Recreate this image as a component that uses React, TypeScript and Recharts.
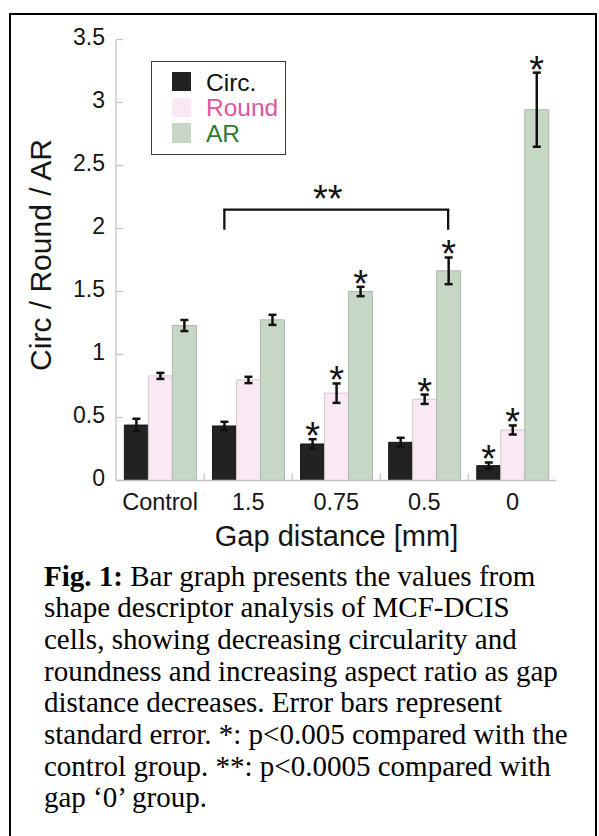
import React from 'react';
import {
  BarChart,
  Bar,
  XAxis,
  YAxis,
  ErrorBar,
  LabelList,
  Legend,
  ReferenceLine,
  Label,
} from 'recharts';

// ---- data -------------------------------------------------------------
const categories = ['Control', '1.5', '0.75', '0.5', '0'];

const circValues = [0.44, 0.433, 0.29, 0.303, 0.118];
const circErrors = [0.05, 0.033, 0.038, 0.036, 0.025];
const circSignificant = [false, false, true, false, true];

const roundValues = [0.83, 0.798, 0.693, 0.645, 0.401];
const roundErrors = [0.024, 0.025, 0.077, 0.037, 0.036];
const roundSignificant = [false, false, true, true, true];

const arValues = [1.23, 1.275, 1.5, 1.664, 2.943];
const arErrors = [0.044, 0.04, 0.037, 0.106, 0.294];
const arSignificant = [false, false, true, true, true];

const yTicks = [0, 0.5, 1, 1.5, 2, 2.5, 3, 3.5];

const seriesNames = ['Circ.', 'Round', 'AR'];
const seriesFill = ['#222222', '#fae9f4', '#c6d7c6'];
const seriesStroke = ['#161616', '#d8c3d0', '#a9baa9'];
const legendTextColors = ['#111111', '#e0559b', '#2f7a2f'];

// "**" bracket: from the Circ. bar of gap 1.5 to the AR bar of gap 0.5
const bracketFrom = { group: '1.5', bar: 0 };
const bracketTo = { group: '0.5', bar: 2 };
const bracketTop = 2.15;
const bracketFoot = 1.99;

const captionLines = [
  'Bar graph presents the values from',
  'shape descriptor analysis of MCF-DCIS',
  'cells, showing decreasing circularity and',
  'roundness and increasing aspect ratio as gap',
  'distance decreases. Error bars represent',
  'standard error. *: p<0.005 compared with the',
  'control group. **: p<0.0005 compared with',
  'gap \u20180\u2019 group.',
];

const data = categories.map((gap, i) => ({
  gap,
  circ: circValues[i],
  circErr: circErrors[i],
  round: roundValues[i],
  roundErr: roundErrors[i],
  ar: arValues[i],
  arErr: arErrors[i],
}));

// ---- layout -----------------------------------------------------------
const W = 599;
const H = 560;
const PLOT_LEFT = 116;
const PLOT_RIGHT = 556.5;
const PLOT_TOP = 39.5;
const PLOT_BOTTOM = 480.5;
const Y_AXIS_W = 80;
const X_AXIS_H = 70;
const PLOT_W = PLOT_RIGHT - PLOT_LEFT;
const BAND = PLOT_W / categories.length;

const CATEGORY_GAP = 0.095; // fraction of a band left empty on each side
const BAR_FRACTION = (1 - 2 * CATEGORY_GAP) / 3;
// horizontal offset of a bar's centre from its band centre, in band units
const barOffset = (bar: number) => CATEGORY_GAP + (bar + 0.5) * BAR_FRACTION - 0.5;

const SANS = '"Liberation Sans", Arial, Helvetica, sans-serif';
const SERIF = '"Liberation Serif", "Times New Roman", Times, serif';
const AXIS_GRAY = '#c4c4c4';

// ---- custom pieces ----------------------------------------------------
const YTick = (props: any) => {
  const { x, y, payload } = props;
  return (
    <g>
      <line x1={x} x2={x + 7} y1={y} y2={y} stroke={AXIS_GRAY} strokeWidth={1.3} />
      <text x={x - 11} y={y + 5.8} textAnchor="end" fontSize={23} fill="#151515" fontFamily={SANS}>
        {String(payload.value)}
      </text>
    </g>
  );
};

// bottom axis: category label plus an inward tick on each group boundary
const XTick = (props: any) => {
  const { x, y, payload } = props;
  const idx = categories.indexOf(payload.value);
  return (
    <g>
      {idx < categories.length - 1 && (
        <line x1={x + BAND / 2} x2={x + BAND / 2} y1={y} y2={y - 7} stroke={AXIS_GRAY} strokeWidth={1.3} />
      )}
      <text x={x} y={y + 29} textAnchor="middle" fontSize={23.5} fill="#151515" fontFamily={SANS}>
        {payload.value}
      </text>
    </g>
  );
};

// top frame: only inward ticks on the group boundaries
const TopTick = (props: any) => {
  const { x, y, payload } = props;
  const idx = categories.indexOf(payload.value);
  if (idx >= categories.length - 1) return <g />;
  return <line x1={x + BAND / 2} x2={x + BAND / 2} y1={y} y2={y + 7} stroke={AXIS_GRAY} strokeWidth={1.3} />;
};

const starLabel = (flags: boolean[], errs: number[]) => (props: any) => {
  const { x, y, width, height, value, index } = props;
  if (!flags[index] || !value) return null;
  const pxPerUnit = height / value;
  const errTop = y - errs[index] * pxPerUnit;
  return (
    <text
      key={`star-${index}`}
      x={x + width / 2}
      y={errTop + 10}
      textAnchor="middle"
      fontSize={38}
      fill="#111"
      fontFamily={SANS}
    >
      *
    </text>
  );
};

const BracketBar = (props: any) => {
  const { x1, x2, y1 } = props;
  const left = x1 + barOffset(bracketFrom.bar) * BAND;
  const right = x2 + barOffset(bracketTo.bar) * BAND;
  const mid = (left + right) / 2;
  return (
    <g>
      <line x1={left} x2={right} y1={y1} y2={y1} stroke="#111" strokeWidth={2.3} strokeLinecap="square" />
      <text x={mid - 8.5} y={y1 + 2.5} textAnchor="middle" fontSize={38} fill="#111" fontFamily={SANS}>
        **
      </text>
    </g>
  );
};

const legShape = (bar: number) => (props: any) => {
  const { x1, y1, y2 } = props;
  const x = x1 + barOffset(bar) * BAND;
  return <line x1={x} x2={x} y1={y1} y2={y2} stroke="#111" strokeWidth={2.3} />;
};

const LegendBox = (props: any) => {
  const payload = ((props.payload || []) as any[])
    .slice()
    .sort((a, b) => seriesNames.indexOf(a.value) - seriesNames.indexOf(b.value));
  return (
    <div
      style={{
        width: 135,
        height: 94,
        border: '1.5px solid #3a3a3a',
        boxSizing: 'border-box',
        background: '#fff',
        position: 'relative',
        fontFamily: SANS,
      }}
    >
      {payload.map((entry, i) => {
        const k = seriesNames.indexOf(entry.value);
        return (
          <div
            key={entry.value}
            style={{ position: 'absolute', left: 20, top: 9.5 + i * 25.8, height: 20, display: 'flex', alignItems: 'center' }}
          >
            <span style={{ display: 'inline-block', width: 19.5, height: 19.5, background: seriesFill[k] }} />
            <span
              style={{
                marginLeft: 15,
                fontSize: 24.5,
                lineHeight: '20px',
                color: legendTextColors[k],
                position: 'relative',
                top: 1,
              }}
            >
              {entry.value}
            </span>
          </div>
        );
      })}
    </div>
  );
};

export default function App() {
  return (
    <div style={{ position: 'absolute', left: 0, top: 0, width: 599, height: 836, overflow: 'hidden', background: '#fff' }}>
      <div
        style={{
          position: 'absolute',
          left: 9,
          top: 13,
          width: 588,
          height: 900,
          border: '2.5px solid #000',
          boxSizing: 'border-box',
        }}
      />
      <div style={{ position: 'absolute', left: 0, top: 0 }}>
        <BarChart
          width={W}
          height={H}
          data={data}
          barGap={0}
          barCategoryGap={`${CATEGORY_GAP * 100}%`}
          margin={{
            top: PLOT_TOP,
            right: W - PLOT_RIGHT,
            left: PLOT_LEFT - Y_AXIS_W,
            bottom: H - PLOT_BOTTOM - X_AXIS_H,
          }}
          style={{ fontFamily: SANS }}
        >
          <XAxis
            dataKey="gap"
            height={X_AXIS_H}
            interval={0}
            tickLine={false}
            tickSize={0}
            tickMargin={0}
            tick={<XTick />}
            axisLine={{ stroke: AXIS_GRAY, strokeWidth: 1.3 }}
          >
            <Label
              content={() => (
                <text x={336.5} y={546} textAnchor="middle" fontSize={29} fill="#151515" fontFamily={SANS}>
                  Gap distance [mm]
                </text>
              )}
            />
          </XAxis>
          <XAxis
            xAxisId="top"
            dataKey="gap"
            orientation="top"
            height={0}
            mirror
            interval={0}
            tickLine={false}
            tickSize={0}
            tickMargin={0}
            tick={<TopTick />}
            axisLine={{ stroke: AXIS_GRAY, strokeWidth: 1.3 }}
          />
          <YAxis
            width={Y_AXIS_W}
            domain={[0, 3.5]}
            ticks={yTicks}
            interval={0}
            allowDataOverflow
            tickLine={false}
            tickSize={0}
            tickMargin={0}
            tick={<YTick />}
            axisLine={{ stroke: AXIS_GRAY, strokeWidth: 1.3 }}
          >
            <Label
              content={() => (
                <text
                  x={51}
                  y={255}
                  transform="rotate(-90 51 255)"
                  textAnchor="middle"
                  fontSize={30}
                  fill="#151515"
                  fontFamily={SANS}
                >
                  Circ / Round / AR
                </text>
              )}
            />
          </YAxis>
          <YAxis
            yAxisId="right"
            orientation="right"
            width={0}
            domain={[0, 3.5]}
            ticks={yTicks}
            interval={0}
            allowDataOverflow
            mirror
            tickSize={7}
            tickFormatter={() => ''}
            axisLine={{ stroke: AXIS_GRAY, strokeWidth: 1.3 }}
            tickLine={{ stroke: AXIS_GRAY, strokeWidth: 1.3 }}
          />
          <Legend
            layout="vertical"
            align="center"
            verticalAlign="middle"
            content={<LegendBox />}
            wrapperStyle={{ left: 150.5, top: 61, width: 135, height: 94 }}
          />

          <Bar dataKey="circ" name={seriesNames[0]} fill={seriesFill[0]} stroke={seriesStroke[0]} strokeWidth={1} isAnimationActive={false}>
            <ErrorBar dataKey="circErr" direction="y" width={4} stroke="#111" strokeWidth={2.5} isAnimationActive={false} />
            <LabelList dataKey="circ" content={starLabel(circSignificant, circErrors)} />
          </Bar>
          <Bar dataKey="round" name={seriesNames[1]} fill={seriesFill[1]} stroke={seriesStroke[1]} strokeWidth={1} isAnimationActive={false}>
            <ErrorBar dataKey="roundErr" direction="y" width={4} stroke="#111" strokeWidth={2.5} isAnimationActive={false} />
            <LabelList dataKey="round" content={starLabel(roundSignificant, roundErrors)} />
          </Bar>
          <Bar dataKey="ar" name={seriesNames[2]} fill={seriesFill[2]} stroke={seriesStroke[2]} strokeWidth={1} isAnimationActive={false}>
            <ErrorBar dataKey="arErr" direction="y" width={4} stroke="#111" strokeWidth={2.5} isAnimationActive={false} />
            <LabelList dataKey="ar" content={starLabel(arSignificant, arErrors)} />
          </Bar>

          {/* significance bracket */}
          <ReferenceLine
            segment={[{ x: bracketFrom.group, y: bracketTop }, { x: bracketTo.group, y: bracketTop }]}
            shape={<BracketBar />}
          />
          <ReferenceLine
            segment={[{ x: bracketFrom.group, y: bracketTop }, { x: bracketFrom.group, y: bracketFoot }]}
            shape={legShape(bracketFrom.bar)}
          />
          <ReferenceLine
            segment={[{ x: bracketTo.group, y: bracketTop }, { x: bracketTo.group, y: bracketFoot }]}
            shape={legShape(bracketTo.bar)}
          />
        </BarChart>
      </div>
      <div
        style={{
          position: 'absolute',
          left: 44,
          top: 560.5,
          fontFamily: SERIF,
          fontSize: 29,
          lineHeight: '31.7px',
          color: '#000',
          whiteSpace: 'pre',
        }}
      >
        {captionLines.map((line, i) => (
          <div key={i}>
            {i === 0 && <b>Fig. 1:</b>}
            {i === 0 ? ' ' : ''}
            {line}
          </div>
        ))}
      </div>
    </div>
  );
}
